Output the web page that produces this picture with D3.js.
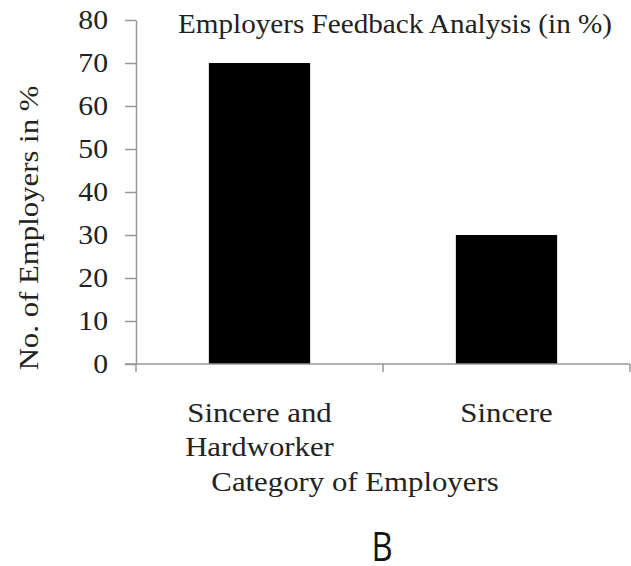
<!DOCTYPE html>
<html><head><meta charset="utf-8">
<script src="https://cdn.jsdelivr.net/npm/d3@7"></script>
<style>body{margin:0;background:#fff}</style>
</head><body>
<svg id="c" width="631" height="566"></svg>
<script>
const categories = [["Sincere and","Hardworker"],["Sincere"]];
const categoryKeys = ["Sincere and Hardworker","Sincere"];
const values = [70, 30];
const yTicks = [0,10,20,30,40,50,60,70,80];
const title = "Employers Feedback Analysis (in %)";
const xTitle = "Category of Employers";
const yTitle = "No. of Employers in %";
const panelLabel = "B";

const svg = d3.select("#c");
const serif = "'Liberation Serif', 'Times New Roman', serif";
const SX = 1.1;
const x = d3.scaleBand().domain(categoryKeys).range([136, 630]).paddingInner(0.59).paddingOuter(0.295);
const y = d3.scaleLinear().domain([0, 80]).range([364, 20]);

function stext(px, py, str, size, opts={}) {
  const g = svg.append("g").attr("transform", `translate(${px},${py}) rotate(${opts.rot||0}) scale(${opts.sx||SX},1)`);
  return g.append("text").attr("text-anchor", opts.anchor||"middle")
    .attr("font-family", opts.family||serif).attr("font-size", size)
    .attr("fill", opts.fill||"#222").text(str);
}

// bars
svg.selectAll("rect.bar").data(values).enter().append("rect")
  .attr("class","bar")
  .attr("x",(d,i)=>x(categoryKeys[i]))
  .attr("width",x.bandwidth())
  .attr("y",d=>y(d))
  .attr("height",d=>y(0)-y(d))
  .attr("fill","#000");

// y axis
const ya = svg.append("g").attr("transform","translate(136,0)")
  .call(d3.axisLeft(y).tickValues(yTicks).tickSize(11).tickSizeOuter(0).tickFormat(""));
ya.select(".domain").attr("stroke","#999").attr("stroke-width",1.5);
ya.selectAll(".tick line").attr("stroke","#999").attr("stroke-width",1.5);
yTicks.forEach(t => {
  stext(108, y(t), String(t), 27, {anchor:"end"}).attr("dy","0.34em");
});

// x axis
const xa = svg.append("g").attr("transform","translate(0,364)");
xa.append("line").attr("x1",125).attr("x2",630).attr("y1",0).attr("y2",0).attr("stroke","#999").attr("stroke-width",1.5);
const xBoundaries = [136, (x(categoryKeys[0])+x.bandwidth()+x(categoryKeys[1]))/2, 630];
xa.selectAll("line.t").data(xBoundaries).enter().append("line").attr("class","t")
  .attr("x1",d=>d).attr("x2",d=>d).attr("y1",0).attr("y2",8).attr("stroke","#999").attr("stroke-width",1.5);

categories.forEach((lines,i)=>{
  const cx = x(categoryKeys[i]) + x.bandwidth()/2;
  lines.forEach((t,j)=>{
    stext(cx, 422 + j*34, t, 28);
  });
});

stext(395, 33, title, 27, {sx:1.08});
stext(355, 491, xTitle, 28);
stext(38, 228, yTitle, 28, {rot:-90});
stext(382, 561, panelLabel, 40, {family:"'Open Sans', sans-serif", sx:0.82, fill:"#111"});
</script>
</body></html>
